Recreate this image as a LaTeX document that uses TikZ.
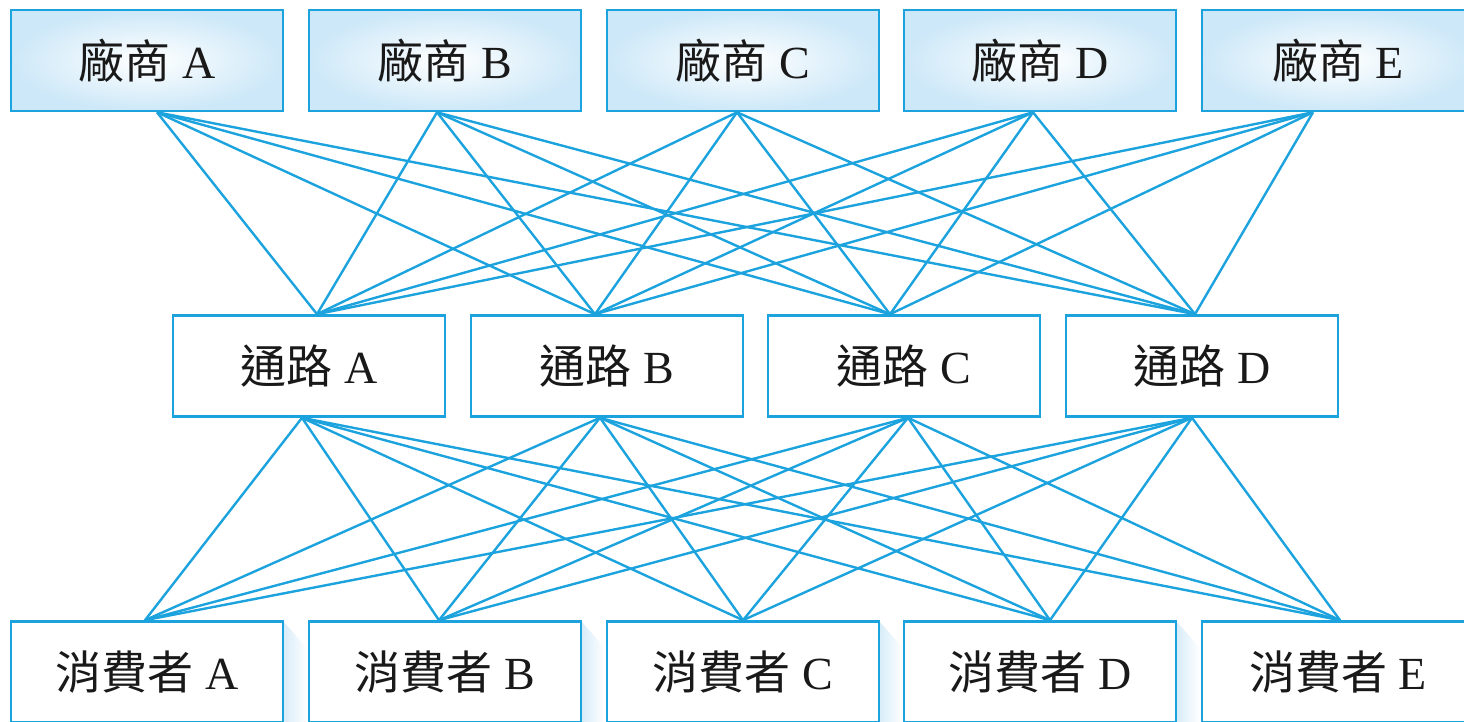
\documentclass[tikz,border=0pt]{standalone}
\usepackage{fontspec}
\setmainfont{Liberation Serif}
\newfontfamily\cjk{Noto Sans CJK TC}
\usetikzlibrary{calc}
\definecolor{lineblue}{RGB}{28,163,222}
\definecolor{fillblue}{RGB}{205,232,248}
\definecolor{shadowblue}{RGB}{215,236,249}
\tikzset{
  box/.style={draw=lineblue, line width=2.6pt, minimum width=272pt, minimum height=101pt,
    inner sep=0pt, font=\fontsize{46}{52}\selectfont, text=black!90},
  topbox/.style={box, inner color=white, outer color=fillblue},
  plainbox/.style={box, fill=white},
  link/.style={draw=lineblue, line width=2.4pt},
}
\begin{document}
\begin{tikzpicture}[x=1pt,y=1pt]
\useasboundingbox (0,0) rectangle (1464,-722);
\clip (0,0) rectangle (1464,-722);
% shadows of bottom boxes
\foreach \cx in {147,445,743,1040} {
  \shade[left color=shadowblue, right color=white]
    (\cx+136,-621) -- (\cx+160,-648) -- (\cx+160,-730) -- (\cx+136,-730) -- cycle;
}
% top row
\node[topbox] (tA) at (147,-60.5) {{\cjk 廠商}\ A};
\node[topbox] (tB) at (445,-60.5) {{\cjk 廠商}\ B};
\node[topbox] (tC) at (743,-60.5) {{\cjk 廠商}\ C};
\node[topbox] (tD) at (1040,-60.5) {{\cjk 廠商}\ D};
\node[topbox] (tE) at (1338,-60.5) {{\cjk 廠商}\ E};
% middle row
\node[plainbox] (mA) at (309,-366) {{\cjk 通路}\ A};
\node[plainbox] (mB) at (607,-366) {{\cjk 通路}\ B};
\node[plainbox] (mC) at (904,-366) {{\cjk 通路}\ C};
\node[plainbox] (mD) at (1202,-366) {{\cjk 通路}\ D};
% bottom row
\node[plainbox] (bA) at (147,-672) {{\cjk 消費者}\ A};
\node[plainbox] (bB) at (445,-672) {{\cjk 消費者}\ B};
\node[plainbox] (bC) at (743,-672) {{\cjk 消費者}\ C};
\node[plainbox] (bD) at (1040,-672) {{\cjk 消費者}\ D};
\node[plainbox] (bE) at (1338,-672) {{\cjk 消費者}\ E};
% attachment points
\coordinate (tAs) at ($(tA.south)+(10,0)$);
\coordinate (tBs) at ($(tB.south)+(-8,0)$);
\coordinate (tCs) at ($(tC.south)+(-6,0)$);
\coordinate (tDs) at ($(tD.south)+(-7,0)$);
\coordinate (tEs) at ($(tE.south)+(-25,0)$);
\coordinate (mAn) at ($(mA.north)+(8,0)$);
\coordinate (mBn) at ($(mB.north)+(-12,0)$);
\coordinate (mCn) at ($(mC.north)+(-14,0)$);
\coordinate (mDn) at ($(mD.north)+(-7,0)$);
\coordinate (mAs) at ($(mA.south)+(-7,0)$);
\coordinate (mBs) at ($(mB.south)+(-7,0)$);
\coordinate (mCs) at ($(mC.south)+(4,0)$);
\coordinate (mDs) at ($(mD.south)+(-10,0)$);
\coordinate (bAn) at ($(bA.north)+(-2,0)$);
\coordinate (bBn) at ($(bB.north)+(-6,0)$);
\coordinate (bCn) at ($(bC.north)+(0,0)$);
\coordinate (bDn) at ($(bD.north)+(10,0)$);
\coordinate (bEn) at ($(bE.north)+(2,0)$);
% links
\foreach \t in {A,B,C,D,E} {
  \foreach \m in {A,B,C,D} {
    \draw[link] (t\t s) -- (m\m n);
  }
}
\foreach \m in {A,B,C,D} {
  \foreach \b in {A,B,C,D,E} {
    \draw[link] (m\m s) -- (b\b n);
  }
}
\end{tikzpicture}
\end{document}
